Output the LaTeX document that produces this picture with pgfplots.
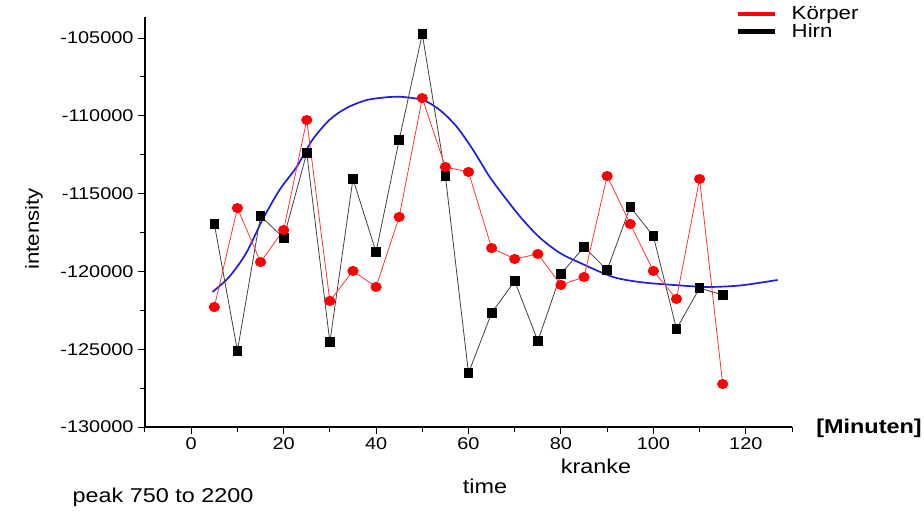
\documentclass[border=0pt]{standalone}
\usepackage{fontspec}
\setmainfont[FakeStretch=1.17]{Liberation Sans}
\usepackage{pgfplots}
\pgfplotsset{compat=1.18}
\usetikzlibrary{calc}

% Koerper (red circles)
\pgfplotstableread{
t    v
5    -122290
10   -115930
15   -119400
20   -117340
25   -110270
30   -121900
35   -119970
40   -121000
45   -116500
50   -108860
55   -113290
60   -113610
65   -118500
70   -119200
75   -118880
80   -120870
85   -120360
90   -113870
95   -116950
100  -119970
105  -121770
110  -114060
115  -127240
}\koerper

% Hirn (black squares)
\pgfplotstableread{
t    v
5    -116950
10   -125100
15   -116440
20   -117850
25   -112390
30   -124540
35   -114060
40   -118750
45   -111550
50   -104740
55   -113870
60   -126530
65   -122670
70   -120620
75   -124470
80   -120170
85   -118430
90   -119910
95   -115860
100  -117730
105  -123700
110  -121070
115  -121520
}\hirn

% fitted curve (blue)
\pgfplotstableread{
t     v
4.6   -121320
8.2   -120360
11.9  -118820
15.4  -116700
19.1  -114770
22.8  -113290
26.2  -111560
29.9  -110270
33.6  -109500
38.0  -108985
42.9  -108790
45.1  -108770
50.1  -108985
53.8  -109630
57.5  -110720
61.0  -112200
64.6  -113930
68.3  -115410
71.8  -116700
75.5  -117850
79.8  -118820
84.2  -119460
91.3  -120360
97.5  -120700
104.3 -120870
111.7 -121000
118.9 -120900
126.9 -120550
}\fit

\definecolor{fitblue}{RGB}{30,30,220}

\begin{document}
\begin{tikzpicture}
\begin{axis}[
    name=ax,
    scale only axis,
    width=647pt, height=410pt,
    xmin=-10, xmax=130,
    ymin=-130000, ymax=-103650,
    axis x line*=bottom, axis y line*=left,
    axis line style={line width=1.1pt, -},
    xtick={0,20,...,120},
    minor xtick={-10,10,...,130},
    ytick={-130000,-125000,...,-105000},
    minor ytick={-127500,-122500,...,-107500},
    scaled y ticks=false,
    tick align=outside,
    major tick length=7pt, minor tick length=5pt,
    every tick/.style={black, line width=1pt},
    /pgf/number format/assume math mode=true,
    /pgf/number format/.cd, 1000 sep={}, fixed, /pgfplots/.cd,
    ticklabel style={font=\fontsize{17}{17}\selectfont},
    yticklabel style={xshift=-1pt},
    legend style={at={(0.912,1.031)}, anchor=north west, draw=none, fill=none,
        font=\fontsize{19}{19}\selectfont, row sep=-1pt,
        inner sep=0pt},
    legend cell align=left,
]
\addlegendimage{legend image code/.code={\draw[red, line width=4.5pt] (0pt,0pt) -- (37pt,0pt); \path (52pt,0pt);}}
\addlegendentry{Körper}
\addlegendimage{legend image code/.code={\draw[black, line width=4.5pt] (0pt,0pt) -- (37pt,0pt); \path (52pt,0pt);}}
\addlegendentry{Hirn}

\addplot[fitblue, line width=1.7pt, smooth, no marks, forget plot] table[x=t, y=v] {\fit};
\addplot[black!75, line width=0.8pt, mark=square*, mark size=4.3pt,
    mark options={black, solid}, forget plot] table[x=t, y=v] {\hirn};
\addplot[red!80, line width=0.8pt, mark=*, mark size=4.6pt,
    mark options={red, draw=red, xscale=1.12}, forget plot] table[x=t, y=v] {\koerper};
\end{axis}

\node[font=\fontsize{20}{20}\selectfont] at ($(ax.south west)+(340pt,-59pt)$) {time};
\node[font=\fontsize{20}{20}\selectfont] at ($(ax.south west)+(451pt,-39pt)$) {kranke};
\node[font=\bfseries\fontsize{20}{20}\selectfont] at ($(ax.south west)+(724pt,-1pt)$) {[Minuten]};
\node[font=\fontsize{20}{20}\selectfont] at ($(ax.south west)+(18pt,-70pt)$) {peak 750 to 2200};
\node[font=\fontsize{19}{19}\selectfont, rotate=90] at ($(ax.south west)+(-111pt,198pt)$) {intensity};

\pgfresetboundingbox
\path ($(ax.south west)+(-145pt,-85pt)$) rectangle ($(ax.north east)+(132pt,17pt)$);
\end{tikzpicture}
\end{document}
